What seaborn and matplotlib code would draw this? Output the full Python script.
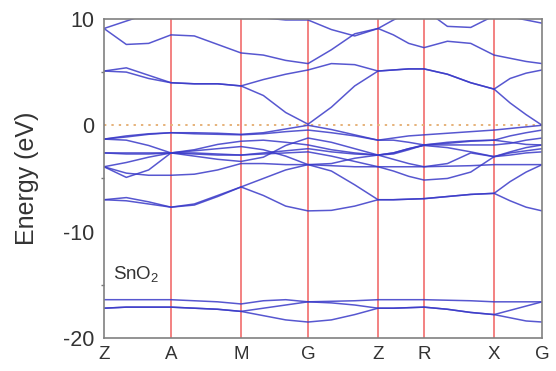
import numpy as np
import pandas as pd
import matplotlib
matplotlib.use("Agg")
import matplotlib.pyplot as plt
from matplotlib.ticker import MultipleLocator
import seaborn as sns

# high-symmetry path
kpoint_labels = ["Z", "A", "M", "G", "Z", "R", "X", "G"]
kpoint_dist = [0, 67, 137, 204, 274, 320, 390, 438]

# band energies (eV) sampled at each node and at 1/3, 2/3 of each segment
cb1 = [5.1, 5.4, 4.7, 4.0, 3.9, 3.9, 3.7, 2.8, 1.2, 0.1, 1.7, 3.7, 5.1, 5.2, 5.3, 5.3, 4.8, 4.0, 3.4, 2.1, 1.0, 0.0]
cb2 = [5.1, 5.0, 4.4, 4.0, 3.9, 3.9, 3.7, 4.3, 4.8, 5.2, 5.8, 5.7, 5.1, 5.2, 5.3, 5.3, 4.8, 4.0, 3.4, 4.4, 4.9, 5.2]
cb3 = [9.1, 7.6, 7.7, 8.5, 8.4, 7.6, 6.8, 6.6, 6.1, 5.8, 7.1, 8.6, 9.1, 8.5, 7.7, 7.3, 7.9, 7.7, 6.6, 6.3, 6.0, 5.8]
cb4 = [9.1, 9.8, 10.5, 10.8, 10.2, 10.1, 10.3, 10.1, 9.9, 9.9, 9.0, 8.4, 9.1, 9.9, 10.6, 11.2, 11.5, 11.0, 10.5, 10.2, 9.9, 9.6]
cb5 = [11.5, 11.5, 11.5, 11.5, 11.5, 11.5, 11.5, 11.5, 11.5, 11.5, 11.5, 11.5, 11.5, 11.5, 11.5, 10.9, 9.3, 9.2, 10.3, 11.5, 11.5, 11.5]

vb1 = [-1.3, -1.0, -0.8, -0.7, -0.7, -0.75, -0.85, -0.7, -0.35, 0.0, -0.4, -0.9, -1.4, -1.2, -1.0, -0.9, -0.75, -0.6, -0.45, -0.3, -0.15, 0.0]
vb2 = [-1.3, -1.1, -0.85, -0.7, -0.8, -0.85, -0.9, -0.8, -0.6, -0.45, -0.7, -1.0, -1.4, -1.4, -1.6, -1.85, -1.7, -1.5, -1.4, -1.0, -0.7, -0.45]
vb3 = [-1.3, -1.4, -1.9, -2.6, -2.3, -1.8, -1.5, -1.4, -1.6, -1.85, -2.3, -2.6, -2.8, -2.6, -2.2, -1.85, -1.85, -1.85, -1.85, -1.7, -1.4, -1.2]
vb4 = [-2.6, -2.6, -2.6, -2.6, -2.6, -2.7, -2.8, -2.6, -2.4, -2.2, -2.5, -2.7, -2.8, -2.6, -2.2, -1.9, -2.1, -2.5, -2.95, -2.6, -2.4, -2.2]
vb5 = [-3.9, -3.5, -3.0, -2.6, -2.9, -3.2, -3.4, -3.0, -1.9, -1.2, -1.6, -2.2, -2.8, -3.2, -3.6, -3.9, -3.6, -2.6, -2.95, -2.5, -2.1, -1.85]
vb6 = [-3.9, -4.5, -4.7, -4.7, -4.6, -4.2, -3.6, -3.6, -3.7, -3.7, -3.8, -3.9, -3.9, -3.9, -3.9, -3.9, -3.85, -3.8, -3.7, -3.7, -3.7, -3.7]
vb7 = [-3.9, -4.9, -4.2, -2.6, -2.7, -2.8, -2.8, -2.7, -2.6, -2.5, -2.9, -3.4, -3.9, -4.3, -4.8, -5.15, -5.0, -4.4, -2.95, -2.8, -2.6, -2.5]
vb8 = [-7.0, -6.8, -7.2, -7.7, -7.4, -6.6, -5.8, -5.0, -4.2, -3.7, -4.3, -5.6, -7.0, -7.0, -6.95, -6.9, -6.7, -6.5, -6.4, -5.3, -4.4, -3.7]
vb9 = [-7.0, -7.1, -7.4, -7.7, -7.5, -6.7, -5.8, -6.6, -7.6, -8.05, -8.0, -7.6, -7.0, -7.0, -6.95, -6.9, -6.7, -6.5, -6.4, -7.1, -7.7, -8.05]
vb10 = [-2.6, -2.7, -2.7, -2.6, -2.4, -2.2, -2.0, -2.3, -2.9, -3.7, -3.6, -3.1, -2.8, -2.7, -2.3, -1.85, -1.6, -1.45, -1.4, -1.6, -1.8, -1.85]

sb1 = [-16.4, -16.4, -16.4, -16.4, -16.5, -16.6, -16.8, -16.5, -16.4, -16.6, -16.55, -16.5, -16.4, -16.4, -16.4, -16.4, -16.45, -16.5, -16.6, -16.6, -16.6, -16.6]
sb2 = [-17.2, -17.1, -17.1, -17.1, -17.2, -17.3, -17.5, -17.2, -16.9, -16.6, -16.7, -16.9, -17.2, -17.2, -17.15, -17.1, -17.3, -17.6, -17.8, -17.4, -17.0, -16.6]
sb3 = [-17.2, -17.1, -17.1, -17.1, -17.2, -17.3, -17.5, -17.9, -18.3, -18.5, -18.3, -17.8, -17.2, -17.2, -17.15, -17.1, -17.3, -17.6, -17.8, -18.1, -18.4, -18.5]

bands = [cb1, cb2, cb3, cb4, cb5, vb1, vb2, vb3, vb4, vb5, vb6, vb7, vb8, vb9, vb10, sb1, sb2, sb3]

# k grid: node, 1/3, 2/3 of every segment, then final node
kgrid = []
for i in range(len(kpoint_dist) - 1):
    a, b = kpoint_dist[i], kpoint_dist[i + 1]
    for f in (0.0, 1.0 / 3.0, 2.0 / 3.0):
        kgrid.append(a + f * (b - a))
kgrid.append(kpoint_dist[-1])

rows = []
for bi, band in enumerate(bands):
    for kk, e in zip(kgrid, band):
        rows.append({"k": kk, "E": e, "band": bi})
df = pd.DataFrame(rows)

sns.set_style("white")
plt.rcParams["font.family"] = ["Liberation Sans", "DejaVu Sans"]
plt.rcParams["axes.unicode_minus"] = False

fig = plt.figure(figsize=(5.56, 3.71), dpi=100)
ax = fig.add_axes([0.187, 0.089, 0.788, 0.860])

# red vertical lines at interior high-symmetry points
for x in kpoint_dist[1:-1]:
    ax.axvline(x, color="#ee4444", lw=1.1, alpha=0.85, zorder=1)

# Fermi level
ax.axhline(0, color="#e6b27a", lw=1.4, linestyle=(0, (1.2, 2.6)), zorder=1)

sns.lineplot(data=df, x="k", y="E", units="band", estimator=None,
             color="#3a3ac8", lw=1.1, alpha=0.85, sort=False, ax=ax,
             zorder=2, legend=False)

ax.set_xlim(kpoint_dist[0], kpoint_dist[-1])
ax.set_ylim(-20, 10)
ax.set_xticks(kpoint_dist)
ax.set_xticklabels(kpoint_labels, fontsize=13.5, color="#333333")
ax.set_yticks([-20, -10, 0, 10])
ax.yaxis.set_minor_locator(MultipleLocator(5))
ax.tick_params(axis="y", which="major", direction="out", length=5, width=1,
               color="#777777", labelsize=15.5, labelcolor="#333333", pad=2)
ax.tick_params(axis="y", which="minor", direction="out", length=2.5, width=1,
               color="#777777", left=True)
ax.tick_params(axis="x", length=0, pad=6)
ax.set_xlabel("")
ax.set_ylabel("Energy (eV)", fontsize=18, color="#333333", labelpad=17)

for s in ax.spines.values():
    s.set_color("#808080")
    s.set_linewidth(1.2)
    s.set_visible(True)

ax.text(0.02, 0.182, r"SnO$_\mathregular{2}$", transform=ax.transAxes,
        fontsize=13.5, color="#333333", ha="left", va="baseline")

fig.savefig("out.png", dpi=100)
